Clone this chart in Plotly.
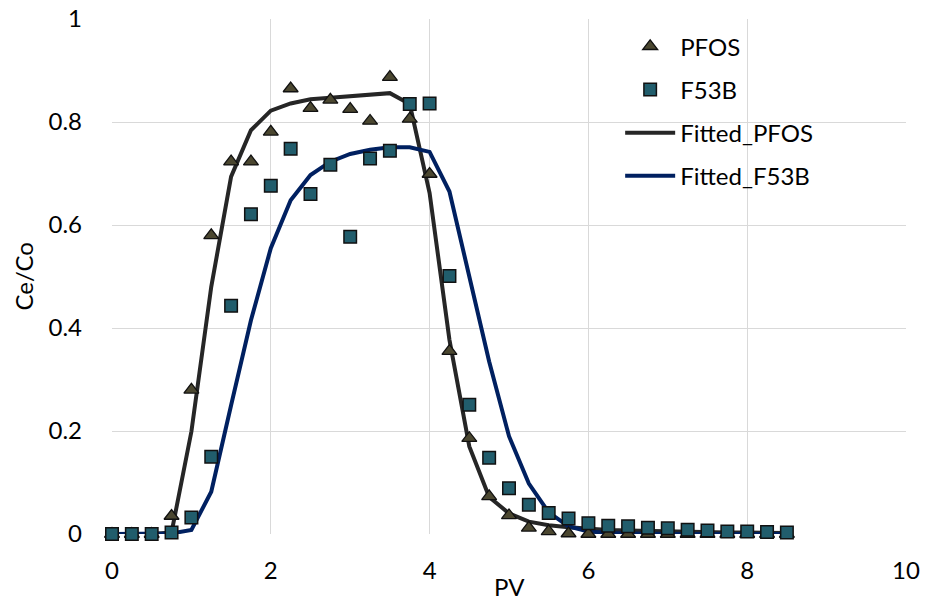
import plotly.graph_objects as go

pv = [0, 0.25, 0.5, 0.75, 1.0, 1.25, 1.5, 1.75, 2.0, 2.25, 2.5, 2.75, 3.0, 3.25, 3.5, 3.75,
      4.0, 4.25, 4.5, 4.75, 5.0, 5.25, 5.5, 5.75, 6.0, 6.25, 6.5, 6.75, 7.0, 7.25, 7.5, 7.75,
      8.0, 8.25, 8.5]

pfos = [0, 0, 0, 0.035, 0.28, 0.58, 0.723, 0.723, 0.781, 0.865, 0.827, 0.843, 0.825, 0.802,
        0.887, 0.806, 0.699, 0.355, 0.186, 0.073, 0.036, 0.012, 0.005, 0.001, 0, 0, 0, 0, 0,
        0, 0, 0, 0, 0, 0]

f53b = [0, 0, 0, 0.003, 0.032, 0.150, 0.443, 0.621, 0.676, 0.748, 0.660, 0.717, 0.577, 0.729,
        0.744, 0.835, 0.836, 0.501, 0.251, 0.148, 0.089, 0.057, 0.041, 0.030, 0.021, 0.016,
        0.015, 0.012, 0.011, 0.0083, 0.007, 0.005, 0.005, 0.0039, 0.0031]

fit_pfos = [0, 0, 0, 0.003, 0.199, 0.48, 0.694, 0.784, 0.822, 0.836, 0.844, 0.847, 0.850, 0.853,
            0.856, 0.835, 0.662, 0.377, 0.17, 0.072, 0.04, 0.024, 0.017, 0.013, 0.010, 0.008,
            0.007, 0.006, 0.005, 0.004, 0.004, 0.003, 0.003, 0.002, 0.002]

fit_f53b = [0, 0, 0, 0.001, 0.008, 0.082, 0.25, 0.415, 0.555, 0.648, 0.697, 0.723, 0.738, 0.746,
            0.751, 0.751, 0.742, 0.665, 0.50, 0.335, 0.19, 0.098, 0.042, 0.015, 0.005, 0.002,
            0.001, 0, 0, 0, 0, 0, 0, 0, 0]

x_ticks = [0, 2, 4, 6, 8, 10]
y_ticks = [0, 0.2, 0.4, 0.6, 0.8, 1]
y_tick_text = ["0", "0.2", "0.4", "0.6", "0.8", "1"]

FONT = "Lato"
FS = 24

fig = go.Figure()
fig.add_trace(go.Scatter(x=pv, y=fit_pfos, mode="lines", name="Fitted_PFOS",
                         line=dict(color="#262626", width=4), legendrank=3,
                         legendgroup="c", cliponaxis=False))
fig.add_trace(go.Scatter(x=pv, y=fit_f53b, mode="lines", name="Fitted_F53B",
                         line=dict(color="#002060", width=4), legendrank=4,
                         legendgroup="d", cliponaxis=False))
fig.add_trace(go.Scatter(x=pv, y=pfos, mode="markers", name="PFOS",
                         marker=dict(symbol="triangle-up", size=13, color="#4b4730",
                                     line=dict(color="#111111", width=1.3)),
                         legendrank=1, legendgroup="a", cliponaxis=False))
fig.add_trace(go.Scatter(x=pv, y=f53b, mode="markers", name="F53B",
                         marker=dict(symbol="square", size=12.5, color="#215d6c",
                                     line=dict(color="#111111", width=1.5)),
                         legendrank=2, legendgroup="b", cliponaxis=False))

fig.update_layout(
    width=928, height=604,
    margin=dict(l=112, r=22, t=19, b=70, autoexpand=False),
    paper_bgcolor="white", plot_bgcolor="white",
    font=dict(family=FONT, size=FS, color="#000000"),
    showlegend=True,
    legend=dict(x=0.64, y=0.99, xanchor="left", yanchor="top",
                bgcolor="rgba(0,0,0,0)", font=dict(size=FS),
                tracegroupgap=9, traceorder="grouped", itemwidth=50),
    xaxis=dict(range=[0, 10], tickvals=x_ticks, showgrid=True, gridcolor="#d9d9d9",
               gridwidth=1, zeroline=False, showline=False, ticks="",
               ticklabelstandoff=20, automargin=False),
    yaxis=dict(range=[0, 1], tickvals=y_ticks, ticktext=y_tick_text, showgrid=True,
               gridcolor="#d9d9d9", gridwidth=1, zeroline=False, showline=False, ticks="",
               ticklabelstandoff=29, automargin=False),
    annotations=[
        dict(text="PV", xref="paper", yref="paper", x=0.5, y=-0.1335,
             xanchor="center", yanchor="bottom", showarrow=False,
             font=dict(family=FONT, size=FS)),
        dict(text="Ce/Co", xref="paper", yref="paper", x=-0.112, y=0.5,
             xanchor="center", yanchor="middle", showarrow=False, textangle=-90,
             font=dict(family=FONT, size=FS)),
    ],
)

fig.write_html("out.html")
